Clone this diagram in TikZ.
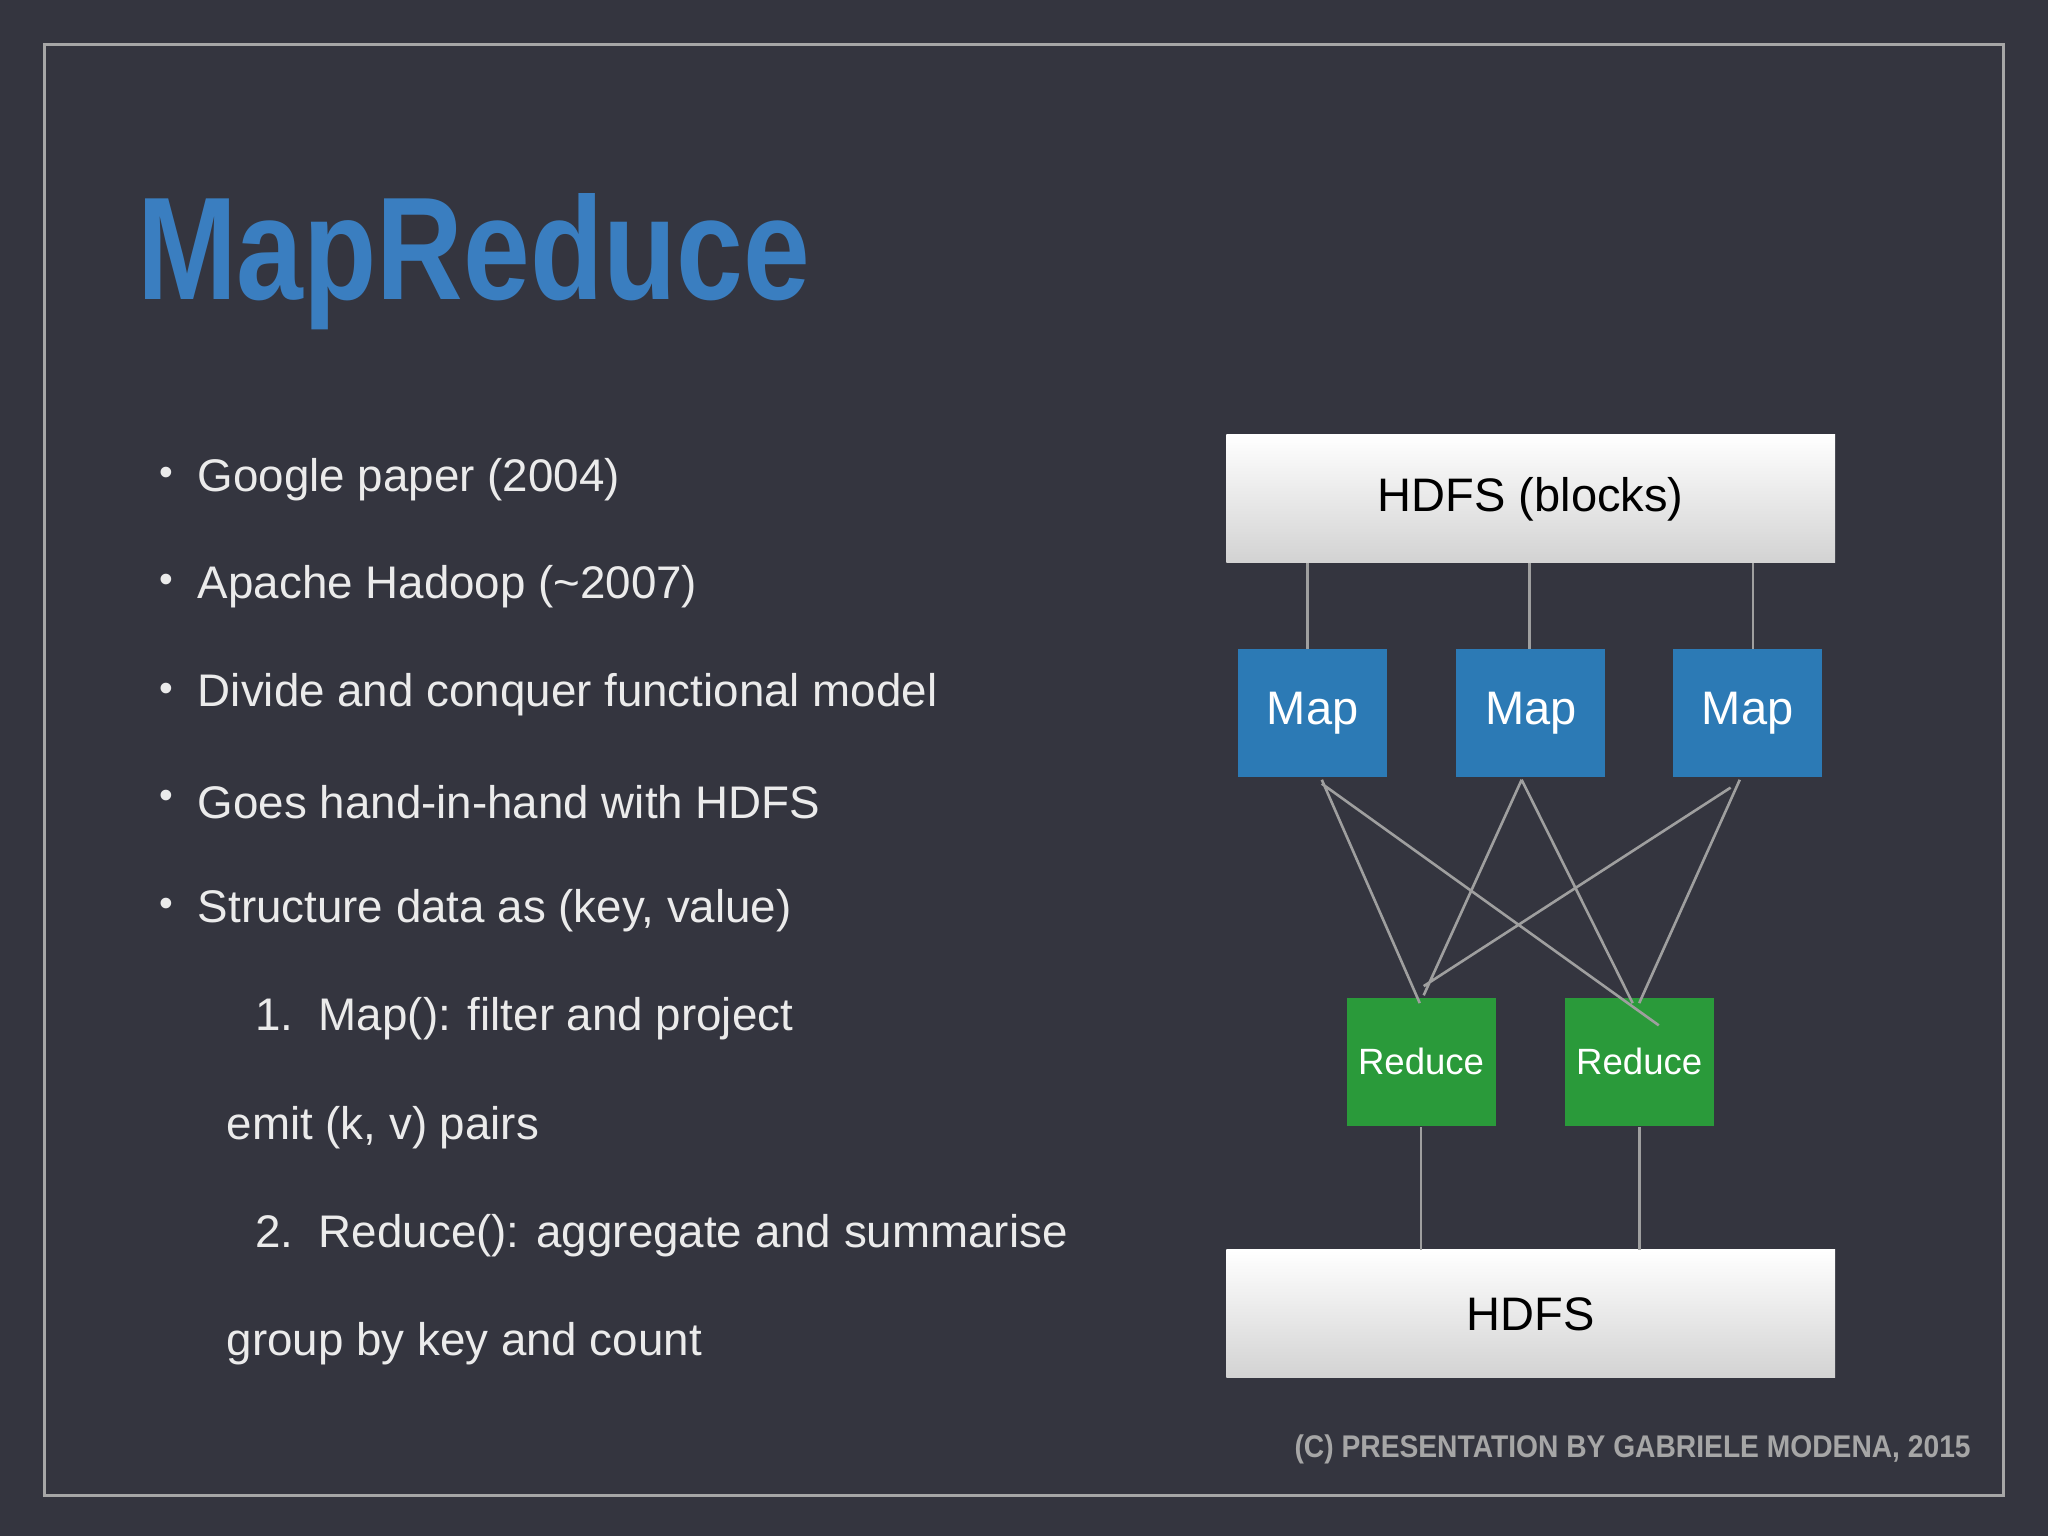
\documentclass[tikz,border=0pt]{standalone}
\usepackage{fontspec}
\setmainfont{Liberation Sans}
\begin{document}
\begin{tikzpicture}[x=1pt,y=-1pt,
 box/.style={draw=none,minimum width=114pt,minimum height=98pt,text=white,font=\fontsize{36}{40}\selectfont},
 mapbox/.style={box,fill=mapblue},
 redbox/.style={box,fill=redgreen,font=\fontsize{28}{32}\selectfont},
 hbox/.style={minimum width=466pt,minimum height=98pt,top color=white,bottom color=gray!35,text=black,font=\fontsize{36}{40}\selectfont},
 ln/.style={draw=gray!75,line width=2pt},
 bt/.style={anchor=west,text=white!92!black,font=\fontsize{35}{38}\selectfont}]
\definecolor{bg}{HTML}{34353F}
\definecolor{mapblue}{HTML}{2C7AB5}
\definecolor{redgreen}{HTML}{2A9A3A}
\definecolor{ttl}{HTML}{3A7EC0}
\fill[bg] (0,0) rectangle (1568,1176);
\useasboundingbox (0,0) rectangle (1568,1176);
\draw[gray!70,line width=2pt] (34,34) rectangle (1534,1145);
\node[anchor=west,text=ttl,font=\bfseries\fontsize{112}{120}\selectfont,xscale=0.82,transform shape] (t) at (102,200) {MapReduce};
\foreach \y/\s [count=\i] in {367/Google paper (2004),449/Apache Hadoop (\textasciitilde 2007),532/Divide and conquer functional model,614/Goes hand-in-hand with HDFS,697/{Structure data as (key, value)}}{
 \node[bt] (b\i) at (148,\y) {\s};
 \node[text=white!92!black,font=\fontsize{30}{30}\selectfont] (d\i) at (127,\y-2) {•};}
\node[bt] (n1) at (192,780) {1.\ \ Map(): filter and project};
\node[bt] (n2) at (170,863) {emit (k, v) pairs};
\node[bt] (n3) at (192,946) {2.\ \ Reduce(): aggregate and summarise};
\node[bt] (n4) at (170,1029) {group by key and count};
\node[hbox] (h1) at (1172,382) {HDFS (blocks)};
\node[hbox] (h2) at (1172,1006) {HDFS};
\node[mapbox] (m1) at (1005,546) {Map};
\node[mapbox] (m2) at (1172,546) {Map};
\node[mapbox] (m3) at (1338,546) {Map};
\node[redbox] (r1) at (1088,813) {Reduce};
\node[redbox] (r2) at (1255,813) {Reduce};
\draw[ln] (1001,431) -- (1001,497) (1171,431)--(1171,497) (1342,431)--(1342,497);
\draw[ln] (1088,863)--(1088,957) (1255,863)--(1255,957);
\coordinate (a) at (1087,768);
\coordinate (c) at (1250,768);
\draw[ln] (1012,597)--(a) (1012,600)--(1270,785)
 (1165,597)--(1090,762) (1165,597)--(c)
 (1332,597)--(1255,768) (1325,603)--(1090,755);
\node[anchor=east,text=gray!70,font=\bfseries\fontsize{24}{26}\selectfont,xscale=0.9,transform shape] (cp) at (1512,1110) {(C) PRESENTATION BY GABRIELE MODENA, 2015};
\end{tikzpicture}
\end{document}
